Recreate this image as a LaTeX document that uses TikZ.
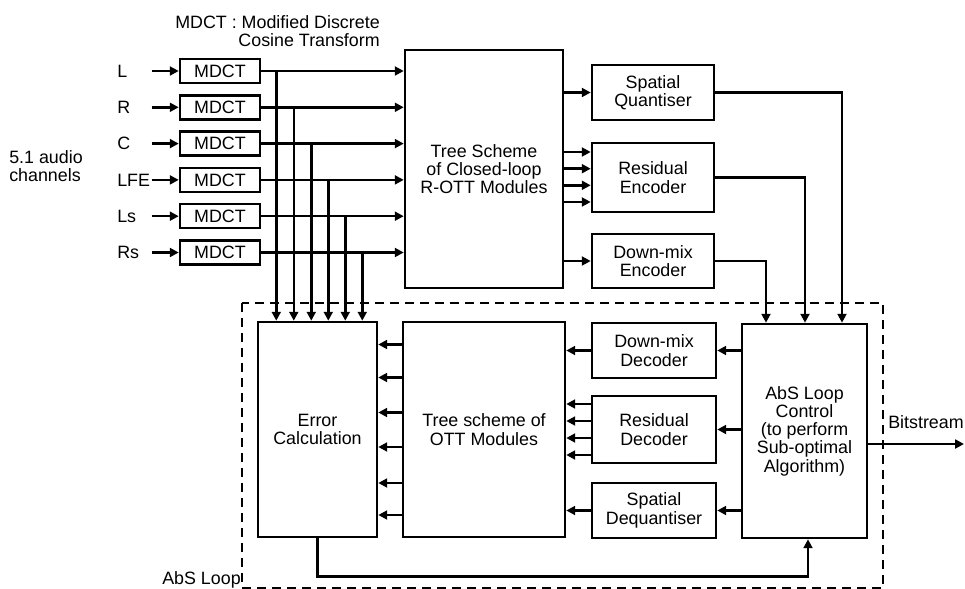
\documentclass[tikz,border=0pt]{standalone}
\usepackage{fontspec}
\setmainfont{Liberation Sans}
\usetikzlibrary{arrows.meta,calc}

\begin{document}
\begin{tikzpicture}
        [x=0.025cm, y=-0.025cm,
        every node/.style={font=\fontsize{12.7}{13}\selectfont},
        box/.style={rectangle, draw, line width=1.8pt, align=center, inner sep=0pt},
        boxMdct/.style={box, minimum width=2cm, minimum height=0.6cm},
        chan/.style={anchor=west, inner sep=0pt, text width=0.85cm, align=left},
        arr/.style={line width=1.8pt, -{Triangle[length=0.22cm, width=0.22cm]}}]
        \useasboundingbox (0,0) rectangle (965,589);

        % captions
        \node[anchor=east, align=right, inner sep=0pt] (legend) at (380,31) {MDCT : Modified Discrete\\Cosine Transform};
        \node[anchor=west, align=left, inner sep=0pt] (chans) at (9,166) {5.1 audio\\channels};

        % inputs and transforms
        \node[chan] (L) at (117,71) {L};
        \node[chan] (R) at (117,107.3) {R};
        \node[chan] (C) at (117,143.6) {C};
        \node[chan] (LFE) at (117,179.9) {LFE};
        \node[chan] (Ls) at (117,216.2) {Ls};
        \node[chan] (Rs) at (117,252.5) {Rs};

        \node[boxMdct] (mL) at (220,71) {MDCT};
        \node[boxMdct] (mR) at (220,107.3) {MDCT};
        \node[boxMdct] (mC) at (220,143.6) {MDCT};
        \node[boxMdct] (mLFE) at (220,179.9) {MDCT};
        \node[boxMdct] (mLs) at (220,216.2) {MDCT};
        \node[boxMdct] (mRs) at (220,252.5) {MDCT};

        % encoder side
        \node[box, minimum width=3.95cm, minimum height=5.95cm] (TS) at (484,169) {Tree Scheme\\of Closed-loop\\R-OTT Modules};
        \node[box, minimum width=3.05cm, minimum height=1.375cm] (SQ) at (653,92.5) {Spatial\\Quantiser};
        \node[box, minimum width=3.05cm, minimum height=1.725cm] (RE) at (653,177.5) {Residual\\Encoder};
        \node[box, minimum width=3.05cm, minimum height=1.35cm] (DE) at (653,261) {Down-mix\\Encoder};

        % analysis-by-synthesis loop
        \draw[line width=1.5pt, dash pattern=on 0.225cm off 0.15cm] (242,303) rectangle (883,588);
        \node[anchor=west, inner sep=0pt] (loopTxt) at (162,580) {AbS Loop};

        \node[box, minimum width=2.975cm, minimum height=5.375cm] (ERR) at (317.5,429.5) {Error\\Calculation};
        \node[box, minimum width=4.05cm, minimum height=5.375cm] (OTT) at (484,429.5) {Tree scheme of\\OTT Modules};
        \node[box, minimum width=3.1cm, minimum height=1.375cm] (DD) at (654,350.5) {Down-mix\\Decoder};
        \node[box, minimum width=3.1cm, minimum height=1.675cm] (RD) at (654,429.5) {Residual\\Decoder};
        \node[box, minimum width=3.1cm, minimum height=1.375cm] (SD) at (654,510.5) {Spatial\\Dequantiser};
        \node[box, minimum width=3.125cm, minimum height=5.35cm] (ABS) at (804.5,431) {AbS Loop\\Control\\(to perform\\Sub-optimal\\Algorithm)};

        \node[anchor=west, inner sep=0pt] (bsTxt) at (888,422) {Bitstream};
        \coordinate (bs) at (964,444);

        % channels into the transforms
        \draw[arr] (L) -- (mL);
        \draw[arr] (R) -- (mR);
        \draw[arr] (C) -- (mC);
        \draw[arr] (LFE) -- (mLFE);
        \draw[arr] (Ls) -- (mLs);
        \draw[arr] (Rs) -- (mRs);

        \draw[arr] (mL) -- (mL -| TS.west);
        \draw[arr] (mR) -- (mR -| TS.west);
        \draw[arr] (mC) -- (mC -| TS.west);
        \draw[arr] (mLFE) -- (mLFE -| TS.west);
        \draw[arr] (mLs) -- (mLs -| TS.west);
        \draw[arr] (mRs) -- (mRs -| TS.west);

        % taps down to the error calculation
        \coordinate (tL) at ($(mL.east)+(15,0)$);
        \coordinate (tR) at ($(mR.east)+(32.5,0)$);
        \coordinate (tC) at ($(mC.east)+(50,0)$);
        \coordinate (tLFE) at ($(mLFE.east)+(67,0)$);
        \coordinate (tLs) at ($(mLs.east)+(84,0)$);
        \coordinate (tRs) at ($(mRs.east)+(101,0)$);
        \draw[arr] (tL) -- (tL |- ERR.north);
        \draw[arr] (tR) -- (tR |- ERR.north);
        \draw[arr] (tC) -- (tC |- ERR.north);
        \draw[arr] (tLFE) -- (tLFE |- ERR.north);
        \draw[arr] (tLs) -- (tLs |- ERR.north);
        \draw[arr] (tRs) -- (tRs |- ERR.north);

        % tree scheme to the coders
        \draw[arr] (SQ.west -| TS.east) -- (SQ.west);
        \coordinate (re1) at ($(RE.west)+(0,-25.5)$);
        \coordinate (re2) at ($(RE.west)+(0,-8.8)$);
        \coordinate (re3) at ($(RE.west)+(0,7.8)$);
        \coordinate (re4) at ($(RE.west)+(0,24.5)$);
        \draw[arr] (re1 -| TS.east) -- (re1);
        \draw[arr] (re2 -| TS.east) -- (re2);
        \draw[arr] (re3 -| TS.east) -- (re3);
        \draw[arr] (re4 -| TS.east) -- (re4);
        \draw[arr] (DE.west -| TS.east) -- (DE.west);

        \draw[arr] (SQ.east) -| ($(ABS.north)+(37.5,0)$);
        \draw[arr] (RE.east) -| ($(ABS.north)+(0.5,0)$);
        \draw[arr] (DE.east) -| ($(ABS.north)+(-38.5,0)$);

        % loop control to the decoders
        \draw[arr] (DD.east -| ABS.west) -- (DD.east);
        \draw[arr] (RD.east -| ABS.west) -- (RD.east);
        \draw[arr] (SD.east -| ABS.west) -- (SD.east);

        \draw[arr] (DD.west) -- (DD.west -| OTT.east);
        \coordinate (rd1) at ($(RD.west)+(0,-25.5)$);
        \coordinate (rd2) at ($(RD.west)+(0,-8.5)$);
        \coordinate (rd3) at ($(RD.west)+(0,8.5)$);
        \coordinate (rd4) at ($(RD.west)+(0,25.5)$);
        \draw[arr] (rd1) -- (rd1 -| OTT.east);
        \draw[arr] (rd2) -- (rd2 -| OTT.east);
        \draw[arr] (rd3) -- (rd3 -| OTT.east);
        \draw[arr] (rd4) -- (rd4 -| OTT.east);
        \draw[arr] (SD.west) -- (SD.west -| OTT.east);

        % decoded channels into the error calculation
        \coordinate (o1) at ($(OTT.west)+(0,-85)$);
        \coordinate (o2) at ($(OTT.west)+(0,-52)$);
        \coordinate (o3) at ($(OTT.west)+(0,-17)$);
        \coordinate (o4) at ($(OTT.west)+(0,17.5)$);
        \coordinate (o5) at ($(OTT.west)+(0,53.5)$);
        \coordinate (o6) at ($(OTT.west)+(0,85.5)$);
        \draw[arr] (o1) -- (o1 -| ERR.east);
        \draw[arr] (o2) -- (o2 -| ERR.east);
        \draw[arr] (o3) -- (o3 -| ERR.east);
        \draw[arr] (o4) -- (o4 -| ERR.east);
        \draw[arr] (o5) -- (o5 -| ERR.east);
        \draw[arr] (o6) -- (o6 -| ERR.east);

        % feedback and output
        \draw[arr] (ERR.south) -- ++(0,38) -| ($(ABS.south)+(3.5,0)$);
        \draw[arr] (ABS.east |- bs) -- (bs);
    \end{tikzpicture}
\end{document}
